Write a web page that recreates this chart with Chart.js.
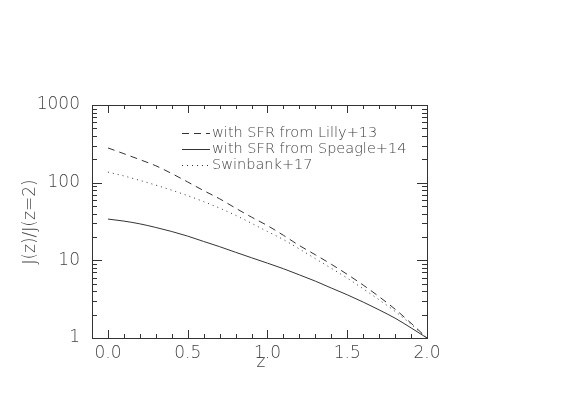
<!DOCTYPE html>
<html>
<head>
<meta charset="utf-8">
<script src="https://cdn.jsdelivr.net/npm/chart.js@4/dist/chart.umd.min.js"></script>
<style>
  html, body { margin: 0; padding: 0; background: #fff; }
  #wrap { width: 578px; height: 409px; position: relative; }
</style>
</head>
<body>
<div id="wrap"><canvas id="chart"></canvas></div>
<script>
// redshift grid
const zValues = [0.0, 0.1, 0.2, 0.3, 0.4, 0.5, 0.6, 0.7, 0.8, 0.9, 1.0,
  1.1, 1.2, 1.3, 1.4, 1.5, 1.6, 1.7, 1.8, 1.9, 2.0];

// J(z)/J(z=2)
const lillyValues = [280, 236, 198, 165, 131, 102, 79, 62, 47, 36, 28,
  21, 15.5, 11.8, 8.9, 6.6, 4.8, 3.4, 2.35, 1.55, 1];
const speagleValues = [34, 32, 29.5, 26.5, 23.5, 20.5, 17.5, 15, 12.7, 10.8, 9.2,
  7.8, 6.5, 5.4, 4.4, 3.6, 2.9, 2.3, 1.8, 1.35, 1];
const swinbankValues = [137, 122, 107, 93, 80, 68, 57, 47, 38, 30, 23.5,
  18.5, 14, 10.5, 7.9, 5.9, 4.3, 3.1, 2.2, 1.5, 1];

const seriesLabels = ["with SFR from Lilly+13", "with SFR from Speagle+14", "Swinbank+17"];

const xTickValues = [0.0, 0.5, 1.0, 1.5, 2.0];
const yTickValues = [1, 10, 100, 1000];

const ink = "#333";
const textInk = "#444";
const fontFamily = "'DejaVu Sans', 'Liberation Sans', sans-serif";

function toPoints(values) {
  return zValues.map((z, i) => ({ x: z, y: values[i] }));
}

// box, inward ticks on all four sides, axis titles and legend
const framePlugin = {
  id: "frame",
  afterDraw(chart) {
    const ctx = chart.ctx;
    const a = chart.chartArea;
    const xs = chart.scales.x;
    const ys = chart.scales.y;
    ctx.save();
    ctx.strokeStyle = ink;
    ctx.lineWidth = 1;
    ctx.strokeRect(a.left + 0.5, a.top + 0.5, a.right - a.left, a.bottom - a.top);

    ctx.beginPath();
    for (let i = 0; i <= 20; i++) {
      const v = i / 10;
      const px = Math.round(xs.getPixelForValue(v)) + 0.5;
      const len = i % 5 === 0 ? 8 : 4;
      ctx.moveTo(px, a.bottom);
      ctx.lineTo(px, a.bottom - len);
      ctx.moveTo(px, a.top);
      ctx.lineTo(px, a.top + len);
    }
    for (let d = 1; d <= 1000; d *= 10) {
      for (let m = 1; m <= 9; m++) {
        const v = d * m;
        if (v > 1000) break;
        const py = Math.round(ys.getPixelForValue(v)) + 0.5;
        const len = m === 1 ? 10 : 5;
        ctx.moveTo(a.left, py);
        ctx.lineTo(a.left + len, py);
        ctx.moveTo(a.right, py);
        ctx.lineTo(a.right - len, py);
      }
    }
    ctx.stroke();

    // axis titles
    ctx.fillStyle = textInk;
    ctx.font = "300 17px " + fontFamily;
    ctx.textAlign = "center";
    ctx.textBaseline = "middle";
    ctx.fillText("z", 261, 363);
    ctx.save();
    ctx.translate(31, 222);
    ctx.rotate(-Math.PI / 2);
    ctx.fillText("J(z)/J(z=2)", 0, 0);
    ctx.restore();

    // legend
    const rows = [133, 149, 165];
    ctx.font = "300 14.5px " + fontFamily;
    ctx.textAlign = "left";
    chart.data.datasets.forEach((ds, i) => {
      ctx.beginPath();
      ctx.setLineDash(ds.borderDash || []);
      ctx.moveTo(182, rows[i] + 0.5);
      ctx.lineTo(210, rows[i] + 0.5);
      ctx.stroke();
      ctx.setLineDash([]);
      ctx.fillText(ds.label, 212, rows[i]);
    });
    ctx.restore();
  },
};

const ctx = document.getElementById("chart").getContext("2d");
new Chart(ctx, {
  type: "line",
  data: {
    datasets: [
      {
        label: seriesLabels[0],
        data: toPoints(lillyValues),
        borderColor: ink,
        borderWidth: 1,
        borderDash: [7, 5],
        pointRadius: 0,
        cubicInterpolationMode: "monotone",
      },
      {
        label: seriesLabels[1],
        data: toPoints(speagleValues),
        borderColor: ink,
        borderWidth: 1,
        borderDash: [],
        pointRadius: 0,
        cubicInterpolationMode: "monotone",
      },
      {
        label: seriesLabels[2],
        data: toPoints(swinbankValues),
        borderColor: ink,
        borderWidth: 1,
        borderDash: [1, 4],
        pointRadius: 0,
        cubicInterpolationMode: "monotone",
      },
    ],
  },
  options: {
    responsive: true,
    maintainAspectRatio: false,
    animation: false,
    layout: { padding: { top: 105, right: 151, bottom: 0, left: 0 } },
    plugins: {
      legend: { display: false },
      tooltip: { enabled: false },
    },
    scales: {
      x: {
        type: "linear",
        min: -0.1,
        max: 2.0,
        grid: { display: false },
        border: { display: false },
        afterBuildTicks: (scale) => {
          scale.ticks = xTickValues.map((v) => ({ value: v }));
        },
        afterFit: (scale) => {
          scale.height = 409 - 338;
        },
        ticks: {
          color: textInk,
          font: { family: fontFamily, size: 17, weight: 300 },
          padding: -3,
          maxRotation: 0,
          callback: (v) => Number(v).toFixed(1),
        },
      },
      y: {
        type: "logarithmic",
        min: 1,
        max: 1000,
        grid: { display: false },
        border: { display: false },
        afterBuildTicks: (scale) => {
          scale.ticks = yTickValues.map((v) => ({ value: v }));
        },
        afterFit: (scale) => {
          scale.width = 92;
        },
        ticks: {
          color: textInk,
          font: { family: fontFamily, size: 17, weight: 300 },
          padding: 4,
          callback: (v) => String(v),
        },
      },
    },
  },
  plugins: [framePlugin],
});
</script>
</body>
</html>
